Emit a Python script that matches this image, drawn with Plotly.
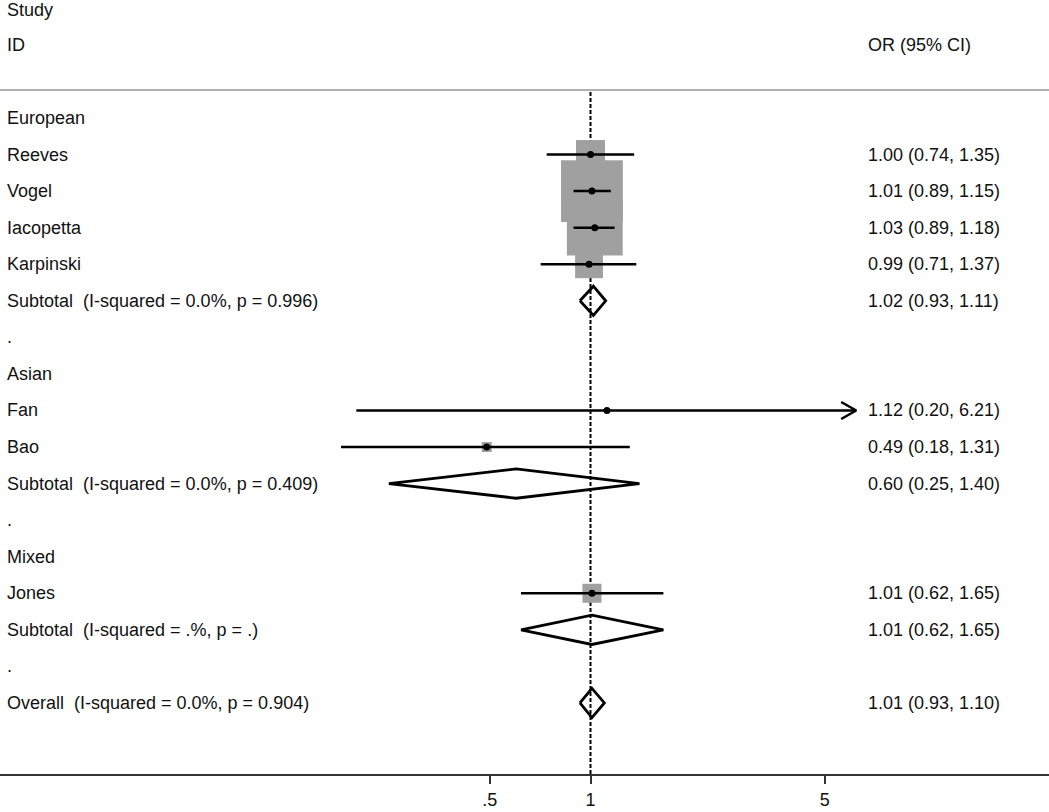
import math
import plotly.graph_objects as go

# ---------------- data ----------------
groups = ["European", "Asian", "Mixed"]
studies = ["Reeves", "Vogel", "Iacopetta", "Karpinski", "Fan", "Bao", "Jones"]
study_group = [0, 0, 0, 0, 1, 1, 2]
study_or = [1.00, 1.01, 1.03, 0.99, 1.12, 0.49, 1.01]
study_lo = [0.74, 0.89, 0.89, 0.71, 0.20, 0.18, 0.62]
study_hi = [1.35, 1.15, 1.18, 1.37, 6.21, 1.31, 1.65]
study_weight = [9.3, 42.3, 34.5, 8.6, 0.2, 1.1, 4.0]  # % weight (from box size)

subtotal_or = [1.02, 0.60, 1.01]
subtotal_lo = [0.93, 0.25, 0.62]
subtotal_hi = [1.11, 1.40, 1.65]
subtotal_i2 = ["0.0%", "0.0%", ".%"]
subtotal_p = ["0.996", "0.409", "."]

overall_or = 1.01
overall_lo = 0.93
overall_hi = 1.10
overall_i2 = "0.0%"
overall_p = "0.904"

tick_vals = [0.5, 1, 5]
tick_text = [".5", "1", "5"]

# ---------------- build rows ----------------
rows = []  # (kind, label, est, lo, hi, weight)
for g, gname in enumerate(groups):
    rows.append(("header", gname, None, None, None, None))
    for i, s in enumerate(studies):
        if study_group[i] == g:
            rows.append(("study", s, study_or[i], study_lo[i], study_hi[i], study_weight[i]))
    rows.append(("subtotal",
                 f"Subtotal\u00a0 (I-squared = {subtotal_i2[g]}, p = {subtotal_p[g]})",
                 subtotal_or[g], subtotal_lo[g], subtotal_hi[g], None))
    rows.append(("blank", ".", None, None, None, None))
rows.append(("subtotal", f"Overall\u00a0 (I-squared = {overall_i2}, p = {overall_p})",
             overall_or, overall_lo, overall_hi, None))

FONT = dict(family="Arial, Liberation Sans, sans-serif", size=18, color="#111111")
W, H = 1049, 812
LEFT_X = 5 / W
RIGHT_X = 866 / W

fig = go.Figure()
annotations = []

def add_text(x, y, text):
    annotations.append(dict(x=x, y=y, xref="paper", yref="y", text=text,
                            showarrow=False, xanchor="left", yanchor="middle",
                            font=FONT))

# header
add_text(LEFT_X, -1.95, "Study")
add_text(LEFT_X, -1.0, "ID")
add_text(RIGHT_X, -1.0, "OR (95% CI)")

# diamonds first (under the null line)
for r, (kind, label, est, lo, hi, w) in enumerate(rows, start=1):
    if kind == "subtotal":
        fig.add_trace(go.Scatter(x=[lo, est, hi, est, lo], y=[r, r - 0.4, r, r + 0.4, r],
                                 mode="lines", fill="toself", fillcolor="white",
                                 line=dict(color="black", width=2.8),
                                 hoverinfo="skip", showlegend=False))

# null line
fig.add_trace(go.Scatter(x=[1, 1], y=[0.29, 18.94], mode="lines",
                         line=dict(color="black", width=2, dash="4px,2px"),
                         hoverinfo="skip", showlegend=False))

# boxes
bx, by, bs = [], [], []
for r, (kind, label, est, lo, hi, w) in enumerate(rows, start=1):
    if kind == "study":
        bx.append(est); by.append(r); bs.append(9.5 * math.sqrt(w))
fig.add_trace(go.Scatter(x=bx, y=by, mode="markers",
                         marker=dict(symbol="square", size=bs, color="#a0a0a0",
                                     opacity=1, line=dict(width=0)),
                         hoverinfo="skip", showlegend=False))

# CI lines, points, arrows
px_per_decade = 335.0
row_px = 36.56
for r, (kind, label, est, lo, hi, w) in enumerate(rows, start=1):
    if kind == "study":
        fig.add_trace(go.Scatter(x=[lo, hi], y=[r, r], mode="lines",
                                 line=dict(color="black", width=2.5),
                                 hoverinfo="skip", showlegend=False))
        if hi > max(tick_vals):
            back = hi * 10 ** (-15 / px_per_decade)
            dy = 8.5 / row_px
            fig.add_trace(go.Scatter(x=[back, hi, back], y=[r - dy, r, r + dy], mode="lines",
                                     line=dict(color="black", width=2.5),
                                     hoverinfo="skip", showlegend=False))
        fig.add_trace(go.Scatter(x=[est], y=[r], mode="markers",
                                 marker=dict(symbol="circle", size=7, color="black"),
                                 hoverinfo="skip", showlegend=False))

# row texts
for r, (kind, label, est, lo, hi, w) in enumerate(rows, start=1):
    add_text(LEFT_X, r, label)
    if est is not None:
        add_text(RIGHT_X, r, f"{est:.2f} ({lo:.2f}, {hi:.2f})")

# header separator
shapes = [dict(type="line", xref="paper", yref="y", x0=0, x1=1, y0=0.234, y1=0.234,
               line=dict(color="#b0b0b0", width=2))]

x_left = (0 - 590.5) / px_per_decade
x_right = (W - 590.5) / px_per_decade

fig.update_layout(
    width=W, height=H,
    margin=dict(l=0, r=0, t=0, b=38),
    paper_bgcolor="white", plot_bgcolor="white",
    annotations=annotations, shapes=shapes,
    xaxis=dict(type="log", range=[x_left, x_right], tickvals=tick_vals, ticktext=tick_text,
               showgrid=False, zeroline=False, showline=True, linecolor="#333333",
               linewidth=2, ticks="outside", ticklen=8, tickwidth=2, tickcolor="#333333",
               tickfont=FONT, fixedrange=True),
    yaxis=dict(range=[18.943, -2.2276], visible=False, showgrid=False, zeroline=False,
               fixedrange=True),
)

fig.write_html("out.html", config={"displayModeBar": False},
               post_script="document.body.style.margin='0px';document.body.style.overflow='hidden';")
